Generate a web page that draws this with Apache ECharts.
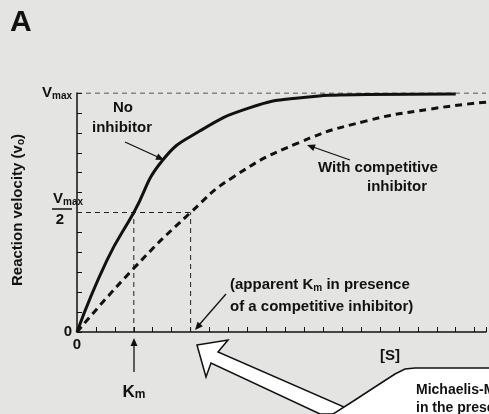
<!DOCTYPE html>
<html>
<head>
<meta charset="utf-8">
<script src="https://cdn.jsdelivr.net/npm/echarts@6/dist/echarts.min.js"></script>
<style>
html,body{margin:0;padding:0;background:#e4e4e2;}
#chart{width:489px;height:414px;}
</style>
</head>
<body>
<div id="chart"></div>
<script>
// [S] in axis tick units, velocity in units where Vmax = 12
var noInhibitor = [[0,0],[1.58,3.6],[3,6],[4.5,8.6],[6.5,10.1],[9.1,11.25],[11.7,11.75],[15.3,11.92],[20,11.95]];
var withInhibitor = [[0,0],[3,3.2],[6,6],[8.2,7.75],[11.7,9.5],[15.3,10.6],[18.7,11.2],[21.7,11.55]];
var vmax = 12;
var km = 3;
var kmApparent = 6;

var FONT = 'Liberation Sans';
var chart = echarts.init(document.getElementById('chart'));

function dashed(data) {
	return {
		type: 'line', data: data, symbol: 'none', silent: true,
		lineStyle: { color: '#222', width: 1, type: [5, 4] }
	};
}

function arrow(x1, y1, x2, y2) {
	return {
		type: 'line', shape: { x1: x1, y1: y1, x2: x2, y2: y2 },
		style: { stroke: '#111', lineWidth: 1.3 }
	};
}
function head(x, y, ang) {
	var a = ang * Math.PI / 180;
	var l = 8, w = 3.5;
	var bx = x - l * Math.cos(a), by = y - l * Math.sin(a);
	return {
		type: 'polygon',
		shape: { points: [[x, y], [bx - w * Math.sin(a), by + w * Math.cos(a)], [bx + w * Math.sin(a), by - w * Math.cos(a)]] },
		style: { fill: '#111' }
	};
}
function txt(x, y, t, align, size) {
	return {
		type: 'text', x: x, y: y,
		style: { text: t, fontFamily: FONT, fontWeight: 'bold', fontSize: size || 15, fill: '#111', align: align || 'center', verticalAlign: 'middle' }
	};
}
var richB = { fontFamily: FONT, fontWeight: 'bold', fontSize: 15, fill: '#111' };
var richS = { fontFamily: FONT, fontWeight: 'bold', fontSize: 10, fill: '#111', padding: [6, 0, 0, 0] };

chart.setOption({
	backgroundColor: '#e4e4e2',
	animation: false,
	grid: { left: 77, right: 0, top: 93, bottom: 82 },
	xAxis: {
		type: 'value', min: 0, max: 21.6, interval: 1,
		axisLine: { lineStyle: { color: '#111', width: 1.5 } },
		axisTick: { inside: true, length: 5, lineStyle: { color: '#111' } },
		splitLine: { show: false },
		axisLabel: {
			formatter: function (v) { return v === 0 ? '0' : ''; },
			fontFamily: FONT, fontWeight: 'bold', fontSize: 15, color: '#111', margin: 5
		}
	},
	yAxis: {
		type: 'value', min: 0, max: vmax, interval: 1,
		axisLine: { lineStyle: { color: '#111', width: 1.5 } },
		axisTick: { inside: true, length: 5, lineStyle: { color: '#111' } },
		splitLine: { show: false },
		axisLabel: {
			margin: 5,
			formatter: function (v) {
				if (v === 0) return '{b|0}';
				if (v === vmax) return '{b|V}{s|max}';
				return '';
			},
			rich: {
				b: { fontFamily: FONT, fontWeight: 'bold', fontSize: 15, color: '#111' },
				s: { fontFamily: FONT, fontWeight: 'bold', fontSize: 10, color: '#111', padding: [6, 0, 0, 0] }
			}
		}
	},
	series: [
		dashed([[0, vmax], [21.6, vmax]]),
		dashed([[0, vmax / 2], [kmApparent, vmax / 2]]),
		dashed([[km, 0], [km, vmax / 2]]),
		dashed([[kmApparent, 0], [kmApparent, vmax / 2]]),
		{
			type: 'line', data: noInhibitor, smooth: 0.5, symbol: 'none',
			lineStyle: { color: '#111', width: 3 }
		},
		{
			type: 'line', data: withInhibitor, smooth: 0.5, symbol: 'none',
			lineStyle: { color: '#111', width: 3, type: [7, 5] }
		}
	],
	graphic: [
		{ type: 'text', x: 10, y: 8, style: { text: 'A', fontFamily: FONT, fontWeight: 'bold', fontSize: 30, fill: '#111' } },
		{ type: 'text', x: 53, y: 199, style: { text: '{b|V}{s|max}', verticalAlign: 'middle', rich: { b: richB, s: richS } } },
		{ type: 'line', shape: { x1: 52, y1: 209, x2: 72, y2: 209 }, style: { stroke: '#111', lineWidth: 1.5 } },
		txt(60, 220, '2'),
		{
			type: 'text', x: 18, y: 210, rotation: Math.PI / 2,
			style: { text: '{b|Reaction velocity (v}{s|o}{b|)}', align: 'center', verticalAlign: 'middle', rich: { b: richB, s: richS } }
		},
		txt(123, 108, 'No'), txt(122, 128, 'inhibitor'),
		arrow(125, 142, 160, 158), head(164, 160, 25),
		txt(378, 168, 'With competitive'), txt(397, 187, 'inhibitor'),
		arrow(350, 160, 313, 147), head(307, 145, 200),
		{
			type: 'text', x: 230, y: 285,
			style: { text: '{b|(apparent K}{s|m}{b| in presence}', verticalAlign: 'middle', rich: { b: richB, s: richS } }
		},
		txt(230, 307, 'of a competitive inhibitor)', 'left'),
		arrow(226, 294, 199, 325), head(195, 330, 131),
		txt(390, 356, '[S]'),
		arrow(134, 372, 134, 344), head(134, 338, -90),
		{
			type: 'text', x: 134, y: 392,
			style: { text: '{b|K}{s|m}', align: 'center', verticalAlign: 'middle',
				rich: { b: { fontFamily: FONT, fontWeight: 'bold', fontSize: 17, fill: '#111' }, s: { fontFamily: FONT, fontWeight: 'bold', fontSize: 12, fill: '#111', padding: [6, 0, 0, 0] } } }
		},
		{
			type: 'polygon',
			shape: { points: [[197, 345], [228, 340], [218, 352], [360, 414], [320, 414], [211, 363], [206, 377]] },
			style: { fill: '#fff', stroke: '#111', lineWidth: 1.5 }
		},
		{
			type: 'polygon',
			shape: { points: [[330, 416], [355, 400], [378, 385], [395, 374], [405, 369], [415, 368], [495, 368], [495, 420]] },
			style: { fill: '#fff', stroke: '#111', lineWidth: 1.5 }
		},
		txt(416, 390, 'Michaelis-Menten kinetics', 'left', 14),
		txt(416, 408, 'in the presence of', 'left', 14)
	]
});
</script>
</body>
</html>
